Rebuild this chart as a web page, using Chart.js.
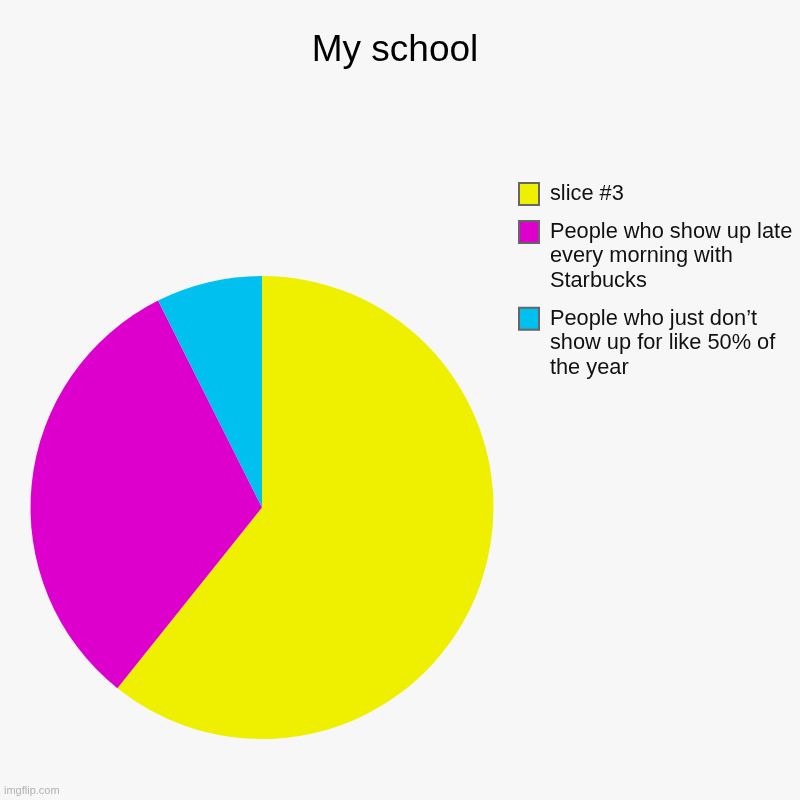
<!DOCTYPE html>
<html>
<head>
<meta charset="utf-8">
<title>My school</title>
<script src="https://cdn.jsdelivr.net/npm/chart.js@4/dist/chart.umd.min.js"></script>
<style>
  html, body { margin: 0; padding: 0; background: #f7f7f7; }
  #wrap { width: 800px; height: 800px; position: relative; }
</style>
</head>
<body>
<div id="wrap"><canvas id="chart"></canvas></div>
<script>
// Chart data
const sliceLabels = [
  "slice #3",
  "People who show up late every morning with Starbucks",
  "People who just don’t show up for like 50% of the year",
];
// wrapped legend text, as shown in the reference
const legendLines = [
  ["slice #3"],
  ["People who show up late", "every morning with", "Starbucks"],
  ["People who just don’t", "show up for like 50% of", "the year"],
];
const sliceValues = [82, 43, 10];
const sliceColors = ["#eef000", "#dd00cc", "#00c0f0"];

const FONT = "'Liberation Sans', Arial, Helvetica, sans-serif";

// Move the legend up next to the title, like the reference
const legendShift = {
  id: "legendShift",
  afterLayout(chart) {
    const lg = chart.legend;
    if (!lg) return;
    lg.left = 505.5;
    lg.right = 800;
    lg.top = 169.5;
    lg.bottom = 760;
  },
};

// small watermark in the bottom left corner
const watermark = {
  id: "watermark",
  afterDraw(chart) {
    const ctx = chart.ctx;
    ctx.save();
    ctx.font = "11px " + FONT;
    ctx.fillStyle = "#b0b0b0";
    ctx.textBaseline = "alphabetic";
    ctx.fillText("imgflip.com", 4, 794);
    ctx.restore();
  },
};

const ctx = document.getElementById("chart").getContext("2d");

new Chart(ctx, {
  type: "pie",
  data: {
    labels: sliceLabels,
    datasets: [
      {
        data: sliceValues,
        backgroundColor: sliceColors,
        borderWidth: 0,
        hoverOffset: 0,
        offset: 0,
      },
    ],
  },
  options: {
    responsive: true,
    maintainAspectRatio: false,
    animation: false,
    layout: {
      padding: { left: 10, right: 20, top: 0, bottom: 61 },
    },
    plugins: {
      title: {
        display: true,
        text: "My school",
        color: "#000",
        font: { family: FONT, size: 37, weight: "normal", lineHeight: 1.2 },
        padding: { top: 29, bottom: 202.6 },
      },
      legend: {
        position: "right",
        align: "start",
        maxWidth: 266,
        labels: {
          boxWidth: 20,
          boxHeight: 22,
          padding: 13.5,
          color: "#111",
          font: { family: FONT, size: 21.8, lineHeight: 1.12 },
          generateLabels: () =>
            legendLines.map((lines, i) => ({
              text: lines,
              fillStyle: sliceColors[i],
              strokeStyle: "#666",
              lineWidth: 2,
              fontColor: "#111",
              hidden: false,
              index: i,
            })),
        },
      },
      tooltip: { enabled: false },
    },
  },
  plugins: [legendShift, watermark],
});
</script>
</body>
</html>
